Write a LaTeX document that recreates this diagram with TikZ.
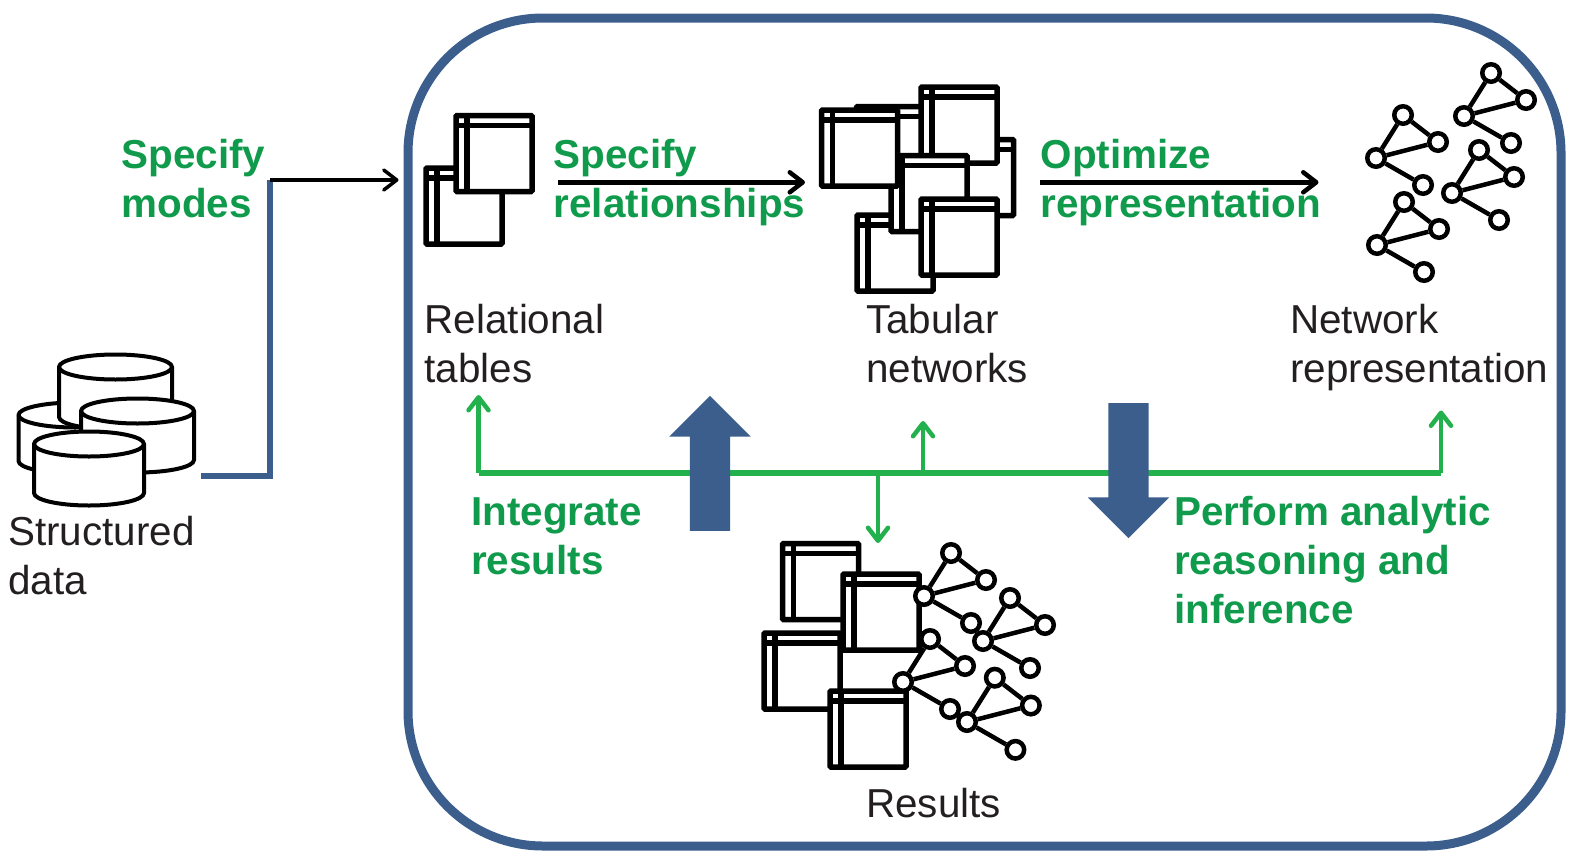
\documentclass[tikz,border=0pt]{standalone}
\usepackage{fontspec}
\setmainfont{Liberation Sans}
\usepackage{tikz}
\usetikzlibrary{shapes.geometric, shapes.arrows, arrows.meta}
\definecolor{frameblue}{RGB}{59,94,140}
\definecolor{linegreen}{RGB}{34,177,76}
\definecolor{textgreen}{RGB}{15,155,75}
\definecolor{textdark}{RGB}{35,31,32}
\tikzstyle{tablebox} = [rectangle, draw=black, fill=white, line width=5.5, rounded corners=1, inner sep=0, outer sep=0, minimum size=76,
  path picture={\draw [black, line width=5.5] ([xshift=11]path picture bounding box.north west) -- ([xshift=11]path picture bounding box.south west);
  \draw [black, line width=5.5] ([yshift=-10]path picture bounding box.north west) -- ([yshift=-10]path picture bounding box.north east);}]
\tikzstyle{netdot} = [circle, draw=black, fill=white, line width=4.5, inner sep=0, minimum size=17.5]
\tikzstyle{netline} = [line width=4.5, black]
\tikzstyle{dbase} = [draw=black, fill=white, line width=4, line join=round]
\tikzstyle{plain} = [anchor=base west, inner sep=0, text=textdark, font=\fontsize{40.4}{48.7}\selectfont, align=left]
\tikzstyle{action} = [anchor=base west, inner sep=0, text=textgreen, font=\fontsize{40.4}{48.7}\selectfont\bfseries, align=left]
\tikzstyle{arrow} = [line width=4.5, black, -{Straight Barb[length=13,width=20,round]}]
\tikzstyle{greenarrow} = [line width=4.5, linegreen, -{Straight Barb[length=13,width=20,round]}]
\tikzstyle{fatarrow} = [single arrow, fill=frameblue, inner sep=20, outer sep=0, minimum width=81, minimum height=135, single arrow head extend=20.5]

\begin{document}
\begin{tikzpicture}[x=1pt, y=-1pt]
    \useasboundingbox (0,0) rectangle (1573,857);

    \node (frame) [rectangle, draw=frameblue, line width=9, rounded corners=135, minimum width=1153, minimum height=828] at (984.5,432) {};

    % structured data
    \foreach \n/\cx/\ty/\by/\rx in {dbleft/75/415/461/56.5, dbback/115.5/367/417/56.5, dbright/137.5/411/460/56.5, dbfront/89/444/493/55} {
        \coordinate (\n) at (\cx,\ty);
        \draw [dbase] (\cx-\rx,\ty) -- (\cx-\rx,\by) arc [start angle=180, end angle=360, x radius=\rx pt, y radius=12.5pt] -- (\cx+\rx,\ty) arc [start angle=0, end angle=180, x radius=\rx pt, y radius=12.5pt] -- cycle;
        \draw [dbase, fill=none] (\cx-\rx,\ty) arc [start angle=180, end angle=360, x radius=\rx pt, y radius=12.5pt];
    }
    \node (dblabel) [plain] at (8,594) {Structured\\data};

    % relational tables
    \node (relb) [tablebox] at (464,206) {};
    \node (rela) [tablebox] at (494,153.5) {};
    \node (rellabel) [plain] at (424.5,382.5) {Relational\\tables};

    % tabular networks
    \node (tabb) [tablebox] at (894.5,144.5) {};
    \node (tabd) [tablebox] at (975.5,177.5) {};
    \node (tabf) [tablebox] at (895,253) {};
    \node (tabc) [tablebox] at (959,125) {};
    \node (tabe) [tablebox] at (929,193.5) {};
    \node (taba) [tablebox] at (859.5,148) {};
    \node (tabg) [tablebox] at (959,237) {};
    \node (tablabel) [plain] at (866,382.5) {Tabular\\networks};

    % results tables
    \node (resa) [tablebox] at (820.5,581.5) {};
    \node (resc) [tablebox] at (802,671) {};
    \node (resb) [tablebox] at (881,612) {};
    \node (resd) [tablebox] at (868,729) {};
    \node (reslabel) [plain] at (866,817) {Results};

    % network groups
    \foreach \n/\x/\y/\s in {na/1376/158/1, nb/1464/116/1, nc/1452/193/1, nd/1377/245/1, ne/924/596/1, nf/983/641/1, ng/903/682/1, nh/967/722/1.03} {
        \node (\n hub) [netdot] at (\x,\y) {};
        \node (\n top) [netdot] at (\x+27*\s,\y-43*\s) {};
        \node (\n right) [netdot] at (\x+62*\s,\y-16*\s) {};
        \node (\n low) [netdot] at (\x+47*\s,\y+27*\s) {};
        \draw [netline] (\n hub) -- (\n top);
        \draw [netline] (\n top) -- (\n right);
        \draw [netline] (\n hub) -- (\n right);
        \draw [netline] (\n hub) -- (\n low);
    }
    \node (netlabel) [plain] at (1290,382.5) {Network\\representation};

    % connectors
    \coordinate (dbout) at (201,476);
    \coordinate (elbow) at (270,476);
    \coordinate (elbowtop) at (270,180);
    \coordinate (framein) at (398.5,180);
    \draw [frameblue, line width=6] (dbout) -- (elbow) -- (elbowtop);
    \draw [arrow, line width=3.5] (elbowtop) -- (framein);

    \coordinate (relout) at (558,182.3);
    \coordinate (tabin) at (805,182.3);
    \coordinate (tabout) at (1040,182.3);
    \coordinate (netin) at (1318.5,182.3);
    \draw [arrow] (relout) -- (tabin);
    \draw [arrow] (tabout) -- (netin);

    \coordinate (busl) at (478.5,473);
    \coordinate (busr) at (1441,473);
    \coordinate (busres) at (878,473);
    \coordinate (bustab) at (923,473);
    \coordinate (reltip) at (478.5,395);
    \coordinate (nettip) at (1441,410.5);
    \coordinate (tabtip) at (923,421);
    \coordinate (restip) at (878,543);
    \draw [linegreen, line width=5.5] (busl) -- (busr);
    \draw [greenarrow] (busl) -- (reltip);
    \draw [greenarrow] (busr) -- (nettip);
    \draw [greenarrow] (bustab) -- (tabtip);
    \draw [greenarrow] (busres) -- (restip);

    \node (fatup) [fatarrow, shape border rotate=90] at (710,473.5) {};
    \node (fatdown) [fatarrow, shape border rotate=270] at (1128.5,460.5) {};

    % labels
    \node (modes) [action] at (121.5,217) {Specify\\modes};
    \node (relship) [action] at (553.5,217) {Specify\\relationships};
    \node (optimize) [action] at (1040.5,217) {Optimize\\representation};
    \node (integrate) [action] at (471,574) {Integrate\\results};
    \node (analytic) [action] at (1174,623) {Perform analytic\\reasoning and\\inference};

\end{tikzpicture}
\end{document}
